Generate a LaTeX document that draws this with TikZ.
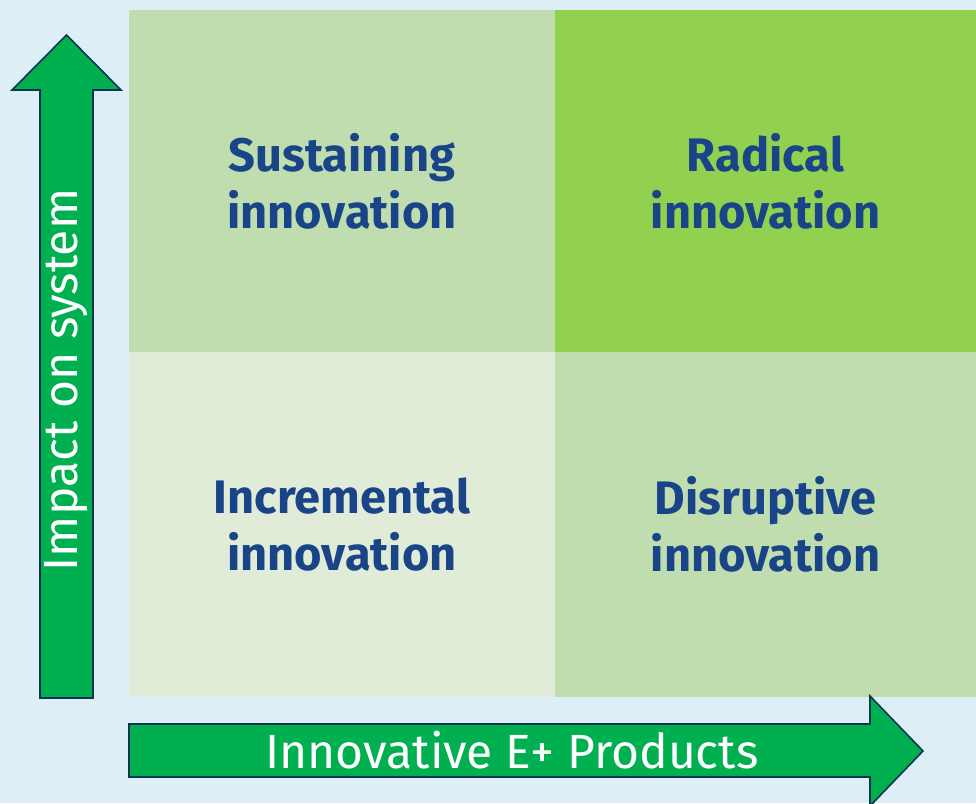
\documentclass[tikz,border=0pt]{standalone}
\usepackage{fontspec}
\setmainfont{Fira Sans}
\usetikzlibrary{positioning}
\definecolor{BackClr}{HTML}{DEEEF6}
\definecolor{MidClr}{HTML}{C0DDB0}
\definecolor{HighClr}{HTML}{92D050}
\definecolor{LowClr}{HTML}{E0EBD8}
\definecolor{ArrowClr}{HTML}{00B050}
\definecolor{EdgeClr}{HTML}{0E3550}
\definecolor{TextClr}{HTML}{1A4488}

\begin{document}
\begin{tikzpicture}[x=1pt,y=-1pt,
  quad/.style={draw=none,inner sep=0pt,align=center,text=TextClr,
    font=\fontsize{47}{57}\selectfont\bfseries},
  bigarrow/.style={fill=ArrowClr,draw=EdgeClr,line width=1.6pt,line join=miter},
  axislabel/.style={text=white,inner sep=0pt,font=\fontsize{48}{54}\selectfont}]

\useasboundingbox (0,0) rectangle (976,803);
\fill[BackClr] (0,0) rectangle (976,803);

% the four quadrants
\node[quad,fill=MidClr,minimum width=426pt,minimum height=342pt] (sust) at (342,181) {Sustaining\\innovation};
\node[quad,fill=HighClr,minimum width=421pt,minimum height=342pt] (radi) at (765.5,181) {Radical\\innovation};
\node[quad,fill=LowClr,minimum width=426pt,minimum height=345pt] (incr) at (342,524.5) {Incremental\\innovation};
\node[quad,fill=MidClr,minimum width=421pt,minimum height=345pt] (disr) at (765.5,524.5) {Disruptive\\innovation};

% axes
\draw[bigarrow] (40,698) -- (40,90) -- (12,90) -- (66.5,35) -- (121,90) -- (93,90) -- (93,698) -- cycle;
\draw[bigarrow] (129,724) -- (870,724) -- (870,696) -- (923,751) -- (870,806) -- (870,777) -- (129,777) -- cycle;

\node[axislabel,rotate=90] (impact) at (66.5,380) {Impact on system};
\node[axislabel] (products) at (512,750) {Innovative E+ Products};

\end{tikzpicture}
\end{document}
